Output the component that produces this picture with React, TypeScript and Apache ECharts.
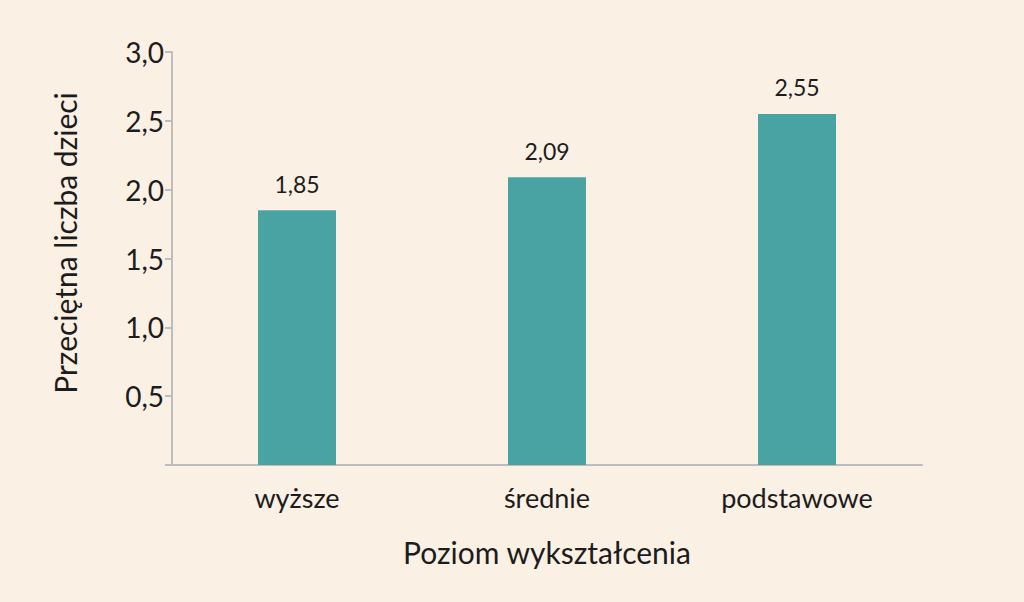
import React, { useEffect, useRef } from "react";
import * as echarts from "echarts";

const categories = ["wyższe", "średnie", "podstawowe"];
const values = [1.85, 2.09, 2.55];
const yTicks = [0, 0.5, 1.0, 1.5, 2.0, 2.5, 3.0];
const xAxisTitle = "Poziom wykształcenia";
const yAxisTitle = "Przeciętna liczba dzieci";

const FONT = "Lato, 'Open Sans', sans-serif";
const TEXT = "#1c1c1c";
const AXIS = "#bdbdbd";

export default function App() {
  const ref = useRef<HTMLDivElement>(null);
  useEffect(() => {
    if (!ref.current) return;
    const chart = echarts.init(ref.current, undefined, { renderer: "svg" });
    chart.setOption({
      animation: false,
      backgroundColor: "#fbf0e4",
      grid: { left: 172, right: 102, top: 52, bottom: 137 },
      xAxis: {
        type: "category",
        data: categories,
        name: xAxisTitle,
        nameLocation: "middle",
        nameGap: 72,
        nameTextStyle: { fontFamily: FONT, fontSize: 30, color: TEXT },
        axisLine: { lineStyle: { color: AXIS, width: 2 } },
        axisTick: { show: false },
        axisLabel: { fontFamily: FONT, fontSize: 27, color: TEXT, margin: 19 },
      },
      yAxis: {
        type: "value",
        min: yTicks[0],
        max: yTicks[yTicks.length - 1],
        interval: 0.5,
        axisLine: { show: true, lineStyle: { color: AXIS, width: 2 } },
        axisTick: { show: true, length: 7, lineStyle: { color: AXIS, width: 2 } },
        splitLine: { show: false },
        axisLabel: {
          fontFamily: FONT,
          fontSize: 28,
          color: TEXT,
          margin: 8,
          formatter: (v: number) => (v === 0 ? "" : v.toFixed(1).replace(".", ",")),
        },
      },
      graphic: [
        {
          type: "text",
          x: 65,
          y: 243,
          rotation: Math.PI / 2,
          style: {
            text: yAxisTitle,
            fontFamily: FONT,
            fontSize: 30,
            fill: TEXT,
            align: "center",
            verticalAlign: "middle",
          },
        },
      ],
      series: [
        {
          type: "bar",
          data: values,
          barWidth: 78,
          itemStyle: { color: "#4aa3a3" },
          label: {
            show: true,
            position: "top",
            distance: 15,
            fontFamily: FONT,
            fontSize: 23,
            color: TEXT,
            formatter: (p: any) => Number(p.value).toFixed(2).replace(".", ","),
          },
        },
      ],
    });
    return () => chart.dispose();
  }, []);
  return <div ref={ref} style={{ width: 1024, height: 602, position: "absolute", left: 0, top: 0 }} />;
}
